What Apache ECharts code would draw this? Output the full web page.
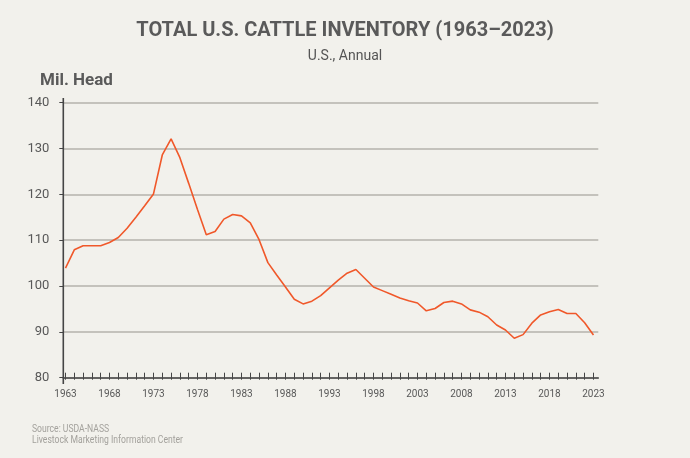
<!DOCTYPE html>
<html>
<head>
<meta charset="utf-8">
<script src="https://cdn.jsdelivr.net/npm/echarts@6/dist/echarts.min.js"></script>
<style>
  html, body { margin: 0; padding: 0; background: #f2f1ec; }
  #chart { width: 690px; height: 458px; }
</style>
</head>
<body>
<div id="chart"></div>
<script>
// ---- data ----
var years = [1963,1964,1965,1966,1967,1968,1969,1970,1971,1972,
             1973,1974,1975,1976,1977,1978,1979,1980,1981,1982,
             1983,1984,1985,1986,1987,1988,1989,1990,1991,1992,
             1993,1994,1995,1996,1997,1998,1999,2000,2001,2002,
             2003,2004,2005,2006,2007,2008,2009,2010,2011,2012,
             2013,2014,2015,2016,2017,2018,2019,2020,2021,2022,2023];
var inventory = [103.9,107.9,108.8,108.8,108.8,109.5,110.6,112.6,115.0,117.5,
                 120.1,128.6,132.1,128.0,122.4,116.7,111.2,111.9,114.6,115.6,
                 115.3,113.8,110.1,105.1,102.4,99.8,97.1,96.1,96.7,97.9,
                 99.6,101.3,102.8,103.6,101.7,99.8,99.0,98.2,97.4,96.8,
                 96.3,94.6,95.1,96.4,96.7,96.1,94.8,94.3,93.3,91.5,
                 90.4,88.6,89.4,91.9,93.7,94.4,94.9,94.0,94.0,92.0,89.3];
var xTickLabels = [1963,1968,1973,1978,1983,1988,1993,1998,2003,2008,2013,2018,2023];
var yTicks = [80,90,100,110,120,130,140];

var titleText = 'TOTAL U.S. CATTLE INVENTORY (1963\u20132023)';
var subtitleText = 'U.S., Annual';
var unitText = 'Mil. Head';
var sourceLines = ['Source: USDA-NASS', 'Livestock Marketing Information Center'];

// ---- chart ----
var FONT = 'Roboto, "Liberation Sans", sans-serif';
var AXIS = '#454545';
var TXT = '#585858';

var seriesData = years.map(function (y, i) { return [y, inventory[i]]; });

var chart = echarts.init(document.getElementById('chart'), null, { renderer: 'canvas' });
var gridLeft = 63.3, gridRight = 598.3, gridTop = 102.7, gridBottom = 377.7;

var option = {
  backgroundColor: '#f2f1ec',
  animation: false,
  grid: { left: gridLeft, right: 690 - gridRight, top: gridTop, bottom: 458 - gridBottom, containLabel: false },
  xAxis: [{
    type: 'value', min: 1962.75, max: 2023.55,
    axisLine: { show: true, lineStyle: { color: AXIS, width: 1.6 } },
    axisTick: { show: true, inside: false, length: 2, customValues: years, lineStyle: { color: AXIS, width: 1 } },
    axisLabel: { show: true, customValues: xTickLabels, formatter: function (v) { return String(v); },
      color: TXT, fontFamily: FONT, fontSize: 10, margin: 12 },
    splitLine: { show: false }
  }, {
    type: 'value', min: 1962.75, max: 2023.55, position: 'bottom',
    axisLine: { show: false },
    axisTick: { show: true, inside: true, length: 5, customValues: years, lineStyle: { color: AXIS, width: 1 } },
    axisLabel: { show: false },
    splitLine: { show: false }
  }],
  yAxis: {
    type: 'value', min: 80, max: 140, interval: 10,
    axisLine: { show: false },
    axisTick: { show: true, length: 4, lineStyle: { color: AXIS, width: 1 } },
    axisLabel: { color: TXT, fontFamily: FONT, fontSize: 13, margin: 14 },
    splitLine: { show: true, lineStyle: { color: '#b4b2ad', width: 1.5 } }
  },
  series: [{
    type: 'line', xAxisIndex: 0, data: seriesData,
    showSymbol: false, symbol: 'none',
    lineStyle: { color: '#f0582a', width: 1.6 },
    z: 5
  }],
  graphic: [
    { type: 'line', z: 10, shape: { x1: gridLeft, y1: 98, x2: gridLeft, y2: 384 },
      style: { stroke: AXIS, lineWidth: 1.6 } },
    { type: 'text', left: 'center', top: 21,
      style: { text: titleText, font: 'bold 20px ' + FONT, fill: '#5a5a5a' } },
    { type: 'text', left: 'center', top: 49,
      style: { text: subtitleText, font: '14px ' + FONT, fill: '#555555' } },
    { type: 'text', left: 40, top: 72,
      style: { text: unitText, font: 'bold 17px ' + FONT, fill: '#5a5a5a' } },
    { type: 'text', originX: 32, scaleX: 0.86,
      style: { text: sourceLines[0], x: 32, y: 429, textVerticalAlign: 'middle',
        font: '10px ' + FONT, fill: '#a3a19c' } },
    { type: 'text', originX: 32, scaleX: 0.86,
      style: { text: sourceLines[1], x: 32, y: 440, textVerticalAlign: 'middle',
        font: '10px ' + FONT, fill: '#a3a19c' } }
  ]
};
chart.setOption(option);
</script>
</body>
</html>
